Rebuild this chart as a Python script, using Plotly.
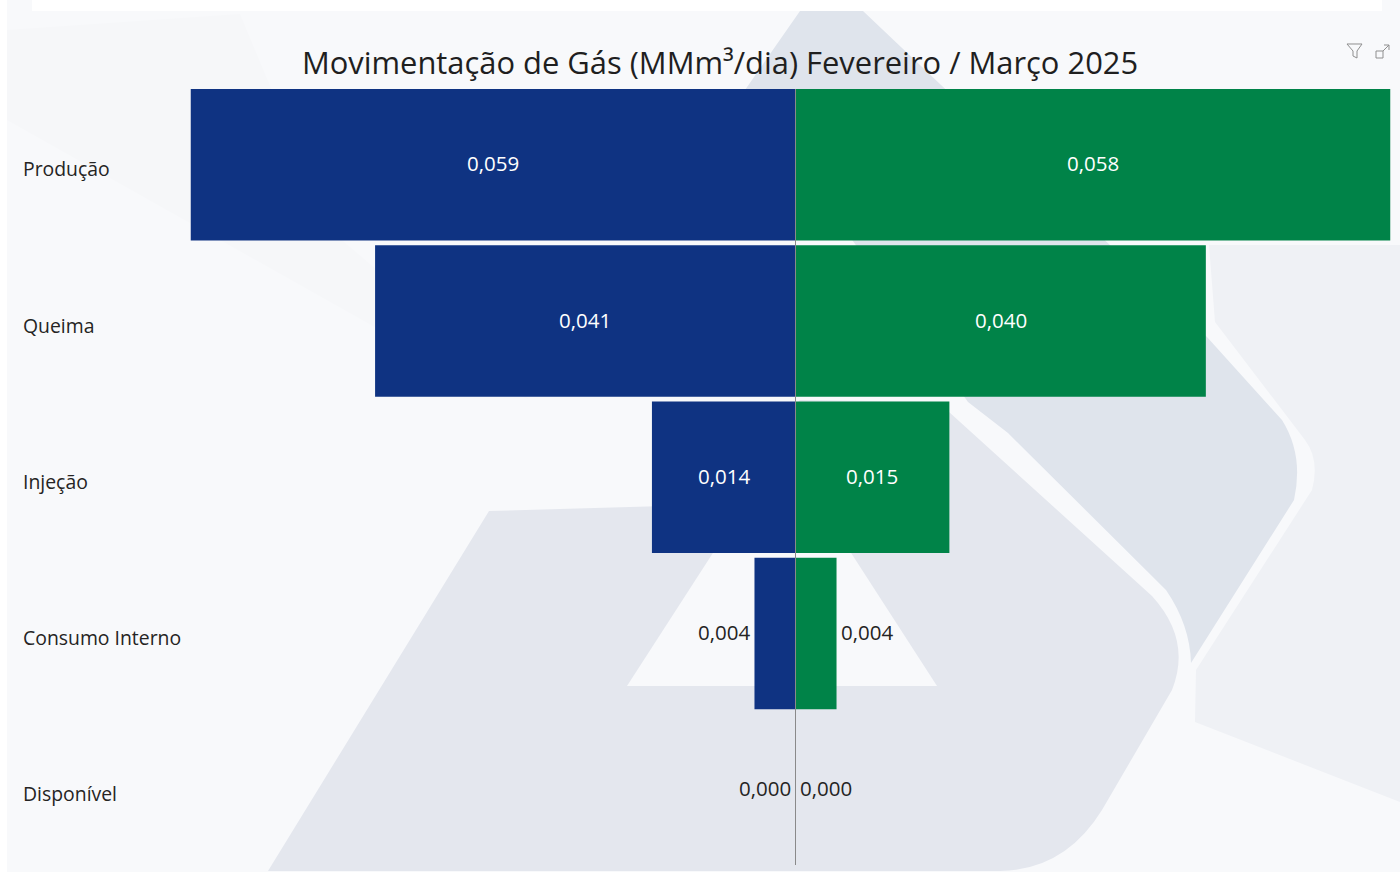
import plotly.graph_objects as go

categories = ["Produção", "Queima", "Injeção", "Consumo Interno", "Disponível"]
fevereiro = [0.059, 0.041, 0.014, 0.004, 0.000]
marco = [0.058, 0.040, 0.015, 0.004, 0.000]
title_text = "Movimentação de Gás (MMm³/dia) Fevereiro / Março 2025"

W, H = 1400, 873
FONT = "Open Sans"
INK = "#252423"
BLUE = "#0F3382"
GREEN = "#008348"


def fx(px):
    return px / W


def fy(py):
    return 1 - py / H


def path(cmds):
    out = []
    for c in cmds:
        letter, pts = c[0], c[1:]
        out.append(letter + " " + " ".join(f"{fx(x):.5f},{fy(y):.5f}" for x, y in pts))
    return " ".join(out) + " Z"


def fill(cmds, color):
    return dict(type="path", xref="paper", yref="paper", layer="below",
                path=path(cmds), fillcolor=color, line=dict(width=0))


def stroke(d, color="#8f8f8f", w=1):
    return dict(type="path", xref="paper", yref="paper", layer="above",
                path=d, line=dict(color=color, width=w))


def value_labels(vals, xref, yref, side):
    """Value labels placed through the axes: inside the bar if it fits, else just beyond it."""
    out = []
    for c, v in zip(categories, vals):
        text = f"{v:.3f}".replace(".", ",")
        inside = v >= 0.008
        if inside:
            out.append(dict(text=text, x=v / 2, xref=xref, y=c, yref=yref, xanchor="center",
                            yanchor="middle", yshift=1.5, showarrow=False,
                            font=dict(family=FONT, size=20.5, color="white")))
        else:
            out.append(dict(text=text, x=v, xref=xref, y=c, yref=yref,
                            xanchor="right" if side < 0 else "left",
                            yanchor="middle", yshift=1.5, xshift=side * 2.5, showarrow=False,
                            font=dict(family=FONT, size=20.5, color=INK)))
    return out


shapes = [
    fill([("M", (7, 0)), ("L", (1400, 0)), ("L", (1400, 872)), ("L", (7, 872))], "#F8F9FB"),
    fill([("M", (32, 0)), ("L", (1382, 0)), ("L", (1382, 11)), ("L", (32, 11))], "#FFFFFF"),
    # faint photo areas of the backdrop
    fill([("M", (7, 30)), ("L", (240, 14)), ("L", (330, 230)), ("L", (530, 400)), ("L", (380, 330)), ("L", (7, 120))], "#F6F7F9"),
    fill([("M", (1209, 245)), ("L", (1400, 245)), ("L", (1400, 802)), ("L", (1195, 722)), ("L", (1196, 670)),
          ("L", (1312, 490)), ("Q", (1320, 460), (1305, 440)), ("L", (1215, 322))], "#EFF1F5"),
    # upper darker band
    fill([("M", (800, 11)), ("L", (863, 11)), ("L", (1207, 337)), ("L", (1282, 420)),
          ("Q", (1304, 455), (1294, 500)), ("L", (1191, 663)), ("Q", (1190, 625), (1166, 590)),
          ("L", (1008, 433)), ("L", (968, 402)), ("L", (745, 90))], "#DFE4EC"),
    # main shape
    fill([("M", (489, 511)), ("L", (700, 505)), ("L", (800, 400)), ("L", (938, 402)), ("L", (1152, 596)),
          ("Q", (1192, 640), (1172, 690)), ("L", (1102, 810)),
          ("Q", (1065, 870), (1000, 871)), ("L", (268, 871))], "#E4E7EE"),
    # triangle cut-out
    fill([("M", (782, 446)), ("L", (937, 686)), ("L", (627, 686))], "#F8F9FB"),
    stroke(path([("M", (1347, 44)), ("L", (1362, 44)), ("L", (1357, 51)),
                 ("L", (1357, 58)), ("L", (1353, 56)), ("L", (1353, 51))])),
    stroke(path([("M", (1376, 51)), ("L", (1376, 58)), ("L", (1383, 58)), ("L", (1383, 51))])),
    stroke("M %.5f,%.5f L %.5f,%.5f M %.5f,%.5f L %.5f,%.5f L %.5f,%.5f" % (
        fx(1383), fy(51), fx(1389), fy(45), fx(1384), fy(45), fx(1389), fy(45), fx(1389), fy(50))),
]

fig = go.Figure()
fig.add_trace(go.Bar(
    y=categories, x=fevereiro, orientation="h", name="Fevereiro", xaxis="x", yaxis="y",
    marker=dict(color=BLUE, line=dict(width=0)), showlegend=False,
))
fig.add_trace(go.Bar(
    y=categories, x=marco, orientation="h", name="Março", xaxis="x2", yaxis="y2",
    marker=dict(color=GREEN, line=dict(width=0)), showlegend=False,
))

y_common = dict(type="category", categoryorder="array", categoryarray=categories,
                range=[4.481, -0.485], domain=[fy(865), fy(89)],
                showgrid=False, zeroline=False, ticks="", showticklabels=False)

annotations = [
    dict(text=c, x=fx(21), xref="paper", xanchor="left", y=c, yref="y", yanchor="middle",
         yshift=-4, showarrow=False, font=dict(family=FONT, size=19.4, color=INK))
    for c in categories
] + value_labels(fevereiro, "x", "y", -1) + value_labels(marco, "x2", "y2", 1)

fig.update_layout(
    width=W, height=H, margin=dict(l=0, r=0, t=0, b=0),
    paper_bgcolor="white", plot_bgcolor="rgba(0,0,0,0)",
    bargap=0.03, shapes=shapes, annotations=annotations, showlegend=False,
    font=dict(family=FONT, color=INK),
    title=dict(text=title_text, x=fx(720), xref="paper", xanchor="center",
               y=fy(63), yref="container", yanchor="middle",
               font=dict(family=FONT, size=30.9, color="#1f1f1f")),
    xaxis=dict(domain=[fx(190.5), fx(795.5)], range=[0.059, 0], anchor="y",
               showgrid=False, zeroline=False, showticklabels=False, ticks=""),
    xaxis2=dict(domain=[fx(795.5), fx(1390.5)], range=[0, 0.058], anchor="y2",
                showgrid=False, zeroline=False, showticklabels=False, ticks=""),
    yaxis=dict(anchor="x", showline=False, **y_common),
    yaxis2=dict(anchor="x2", showline=True, linecolor="#8a8a8a", linewidth=1, **y_common),
)

fig.write_html("out.html", config=dict(displayModeBar=False),
               post_script="document.body.style.margin='0';document.body.style.overflow='hidden';")
